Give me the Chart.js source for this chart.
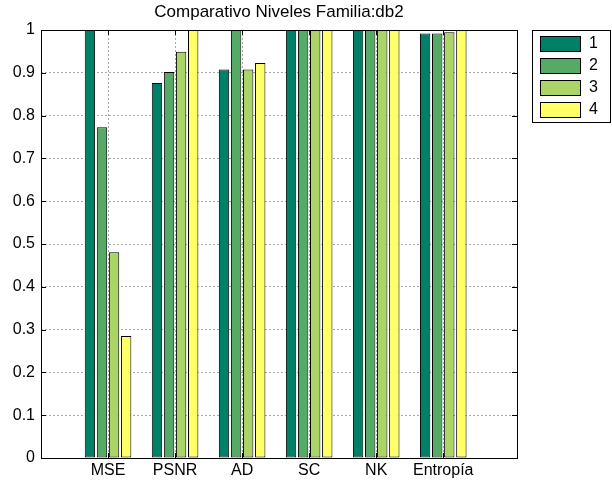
<!DOCTYPE html>
<html>
<head>
<meta charset="utf-8">
<script src="https://cdn.jsdelivr.net/npm/chart.js@4/dist/chart.umd.min.js"></script>
<style>
  html, body { margin: 0; padding: 0; background: #fff; }
  #wrap { width: 612px; height: 482px; }
</style>
</head>
<body>
<div id="wrap"><canvas id="niveles-chart" width="612" height="482"></canvas></div>
<script>
// metrics on the x axis (positions 1..6)
var metrics = ['MSE', 'PSNR', 'AD', 'SC', 'NK', 'Entropía'];
var levelNames = ['1', '2', '3', '4'];

// one array per decomposition level
var level1 = [1.000, 0.876, 0.908, 1.000, 1.000, 0.992];
var level2 = [0.773, 0.902, 1.000, 1.000, 1.000, 0.992];
var level3 = [0.481, 0.949, 0.908, 1.000, 1.000, 0.995];
var level4 = [0.285, 1.000, 0.923, 1.000, 1.000, 1.000];

var yTicks = [0, 0.1, 0.2, 0.3, 0.4, 0.5, 0.6, 0.7, 0.8, 0.9, 1];

var chartTitle = 'Comparativo Niveles Familia:db2';

// matlab "summer" colormap, 4 steps
var levelColors = ['rgb(0,128,102)', 'rgb(85,170,102)', 'rgb(170,213,102)', 'rgb(255,255,102)'];

var FONT = "'Liberation Sans', Arial, Helvetica, sans-serif";

var toPoints = function (values) {
    return values.map(function (v, i) {
        return {x: i + 1, y: v};
    });
};

var allLevels = [level1, level2, level3, level4];
var datasets = allLevels.map(function (values, i) {
    return {
        label: levelNames[i],
        data: toPoints(values),
        backgroundColor: levelColors[i],
        borderColor: '#000',
        borderWidth: 1,
        borderSkipped: false,
        categoryPercentage: 0.72,
        barPercentage: 0.86
    };
});

// box round the axes, ticks pointing inwards (matlab style), title over the axes
var axesBox = {
    id: 'axesBox',
    afterDraw: function (chart) {
        var ctx = chart.ctx;
        var a = chart.chartArea;
        var xs = chart.scales.x;
        var ys = chart.scales.y;
        ctx.save();
        ctx.strokeStyle = '#000';
        ctx.lineWidth = 1;
        ctx.strokeRect(Math.round(a.left) + 0.5, Math.round(a.top) + 0.5,
            Math.round(a.right - a.left), Math.round(a.bottom - a.top));
        ctx.beginPath();
        yTicks.forEach(function (t) {
            var py = Math.round(ys.getPixelForValue(t)) + 0.5;
            ctx.moveTo(a.left, py);
            ctx.lineTo(a.left + 5, py);
            ctx.moveTo(a.right, py);
            ctx.lineTo(a.right - 5, py);
        });
        metrics.forEach(function (m, i) {
            var px = Math.round(xs.getPixelForValue(i + 1)) + 0.5;
            ctx.moveTo(px, a.bottom);
            ctx.lineTo(px, a.bottom - 5);
            ctx.moveTo(px, a.top);
            ctx.lineTo(px, a.top + 5);
        });
        ctx.stroke();

        ctx.fillStyle = '#000';
        ctx.font = '17px ' + FONT;
        ctx.textAlign = 'center';
        ctx.textBaseline = 'middle';
        ctx.fillText(chartTitle, (a.left + a.right) / 2, 12);
        ctx.restore();
    }
};

// boxed legend on the right
var boxLegend = {
    id: 'boxLegend',
    afterDraw: function (chart) {
        var ctx = chart.ctx;
        var a = chart.chartArea;
        var left = Math.round(a.right) + 15;
        var top = Math.round(a.top);
        ctx.save();
        ctx.fillStyle = '#fff';
        ctx.fillRect(left, top, 78, 92);
        ctx.strokeStyle = '#000';
        ctx.lineWidth = 1;
        ctx.strokeRect(left + 0.5, top + 0.5, 78, 92);
        ctx.font = '16px ' + FONT;
        ctx.textBaseline = 'middle';
        levelNames.forEach(function (name, i) {
            var y = top + 6 + i * 22;
            ctx.fillStyle = levelColors[i];
            ctx.fillRect(left + 8, y, 40, 15);
            ctx.strokeRect(left + 8.5, y + 0.5, 40, 15);
            ctx.fillStyle = '#000';
            ctx.fillText(name, left + 57, y + 8);
        });
        ctx.restore();
    }
};

var ctx = document.getElementById('niveles-chart');
var chart = new Chart(ctx, {
    type: 'bar',
    data: {datasets: datasets},
    options: {
        responsive: false,
        animation: false,
        events: [],
        layout: {padding: {left: 0, right: 95, top: 30, bottom: 0}},
        plugins: {
            legend: {display: false},
            tooltip: {enabled: false},
            title: {display: false}
        },
        scales: {
            x: {
                type: 'linear',
                min: 0,
                max: 7.1,
                offset: false,
                afterBuildTicks: function (scale) {
                    scale.ticks = metrics.map(function (m, i) {
                        return {value: i + 1};
                    });
                },
                afterFit: function (scale) {
                    scale.height = 24;
                },
                ticks: {
                    autoSkip: false,
                    maxRotation: 0,
                    padding: 3,
                    color: '#000',
                    font: {family: FONT, size: 16},
                    callback: function (v) {
                        return metrics[v - 1];
                    }
                },
                grid: {
                    offset: false,
                    drawTicks: false,
                    color: '#a8a8a8',
                    lineWidth: 1
                },
                border: {display: false, dash: [2, 2]}
            },
            y: {
                min: 0,
                max: 1,
                afterBuildTicks: function (scale) {
                    scale.ticks = yTicks.map(function (t) {
                        return {value: t};
                    });
                },
                afterFit: function (scale) {
                    scale.width = 41;
                },
                ticks: {
                    padding: 6,
                    color: '#000',
                    font: {family: FONT, size: 16},
                    callback: function (v) {
                        return String(+v.toFixed(1));
                    }
                },
                grid: {
                    drawTicks: false,
                    color: '#a8a8a8',
                    lineWidth: 1
                },
                border: {display: false, dash: [2, 2]}
            }
        }
    },
    plugins: [axesBox, boxLegend]
});
</script>
</body>
</html>
